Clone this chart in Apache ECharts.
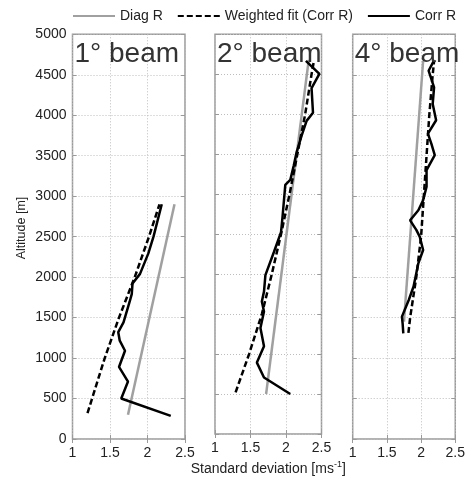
<!DOCTYPE html>
<html>
<head>
<meta charset="utf-8">
<script src="https://cdn.jsdelivr.net/npm/echarts@6/dist/echarts.min.js"></script>
<style>html,body{margin:0;padding:0;background:#fff}#c{width:468px;height:481px}</style>
</head>
<body>
<div id="c"></div>
<script>
// ---- data ----
const panelTitles = ['1° beam', '2° beam', '4° beam'];
const xTicks = [1, 1.5, 2, 2.5];
const yTicks = [0, 500, 1000, 1500, 2000, 2500, 3000, 3500, 4000, 4500, 5000];

const beam1DiagAlt = [300, 2900];
const beam1DiagSd  = [1.74, 2.36];
const beam1FitAlt  = [320, 1000, 1500, 2000, 2500, 2900];
const beam1FitSd   = [1.20, 1.43, 1.62, 1.83, 2.02, 2.16];
const beam1CorrAlt = [2900, 2500, 2290, 2040, 1920, 1790, 1690, 1440, 1320, 1215, 1090, 890, 710, 500, 285];
const beam1CorrSd  = [2.19, 2.08, 2.01, 1.90, 1.80, 1.79, 1.76, 1.68, 1.61, 1.63, 1.70, 1.62, 1.74, 1.65, 2.31];

const beam2DiagAlt = [500, 4680];
const beam2DiagSd  = [1.72, 2.32];
const beam2FitAlt  = [520, 1000, 1500, 2000, 2500, 3000, 3500, 4000, 4500, 4650];
const beam2FitSd   = [1.29, 1.48, 1.66, 1.80, 1.93, 2.05, 2.16, 2.27, 2.36, 2.39];
const beam2CorrAlt = [4668, 4504, 4327, 4019, 3917, 3732, 3527, 3362, 3178, 3116, 2911, 2705, 2525, 2277, 1988, 1781, 1657, 1533, 1326, 1099, 893, 707, 500];
const beam2CorrSd  = [2.28, 2.47, 2.36, 2.38, 2.29, 2.22, 2.15, 2.11, 2.06, 1.99, 1.97, 1.95, 1.93, 1.83, 1.71, 1.69, 1.66, 1.69, 1.64, 1.69, 1.59, 1.69, 2.06];

const beam3DiagAlt = [1450, 4670];
const beam3DiagSd  = [1.75, 2.03];
const beam3FitAlt  = [1310, 1500, 2000, 2500, 3000, 3500, 4000, 4500, 4670];
const beam3FitSd   = [1.815, 1.84, 1.93, 2.00, 2.04, 2.08, 2.12, 2.17, 2.19];
const beam3CorrAlt = [4677, 4550, 4345, 4140, 3938, 3774, 3650, 3508, 3322, 3116, 2950, 2826, 2702, 2583, 2500, 2335, 2170, 2008, 1884, 1717, 1512, 1430, 1306];
const beam3CorrSd  = [2.19, 2.11, 2.19, 2.17, 2.22, 2.10, 2.15, 2.20, 2.08, 2.08, 2.03, 1.96, 1.84, 1.93, 1.98, 2.03, 1.96, 1.92, 1.89, 1.82, 1.72, 1.73, 1.74];

const seriesNames = ['Diag R', 'Weighted fit (Corr R)', 'Corr R'];
const yAxisTitle = 'Altitude [m]';
// ---- end data ----

const FONT = 'Liberation Sans, Arial, sans-serif';
const pairs = (sd, alt) => sd.map((v, i) => [v, alt[i]]);
const panels = [
  [pairs(beam1DiagSd, beam1DiagAlt), pairs(beam1FitSd, beam1FitAlt), pairs(beam1CorrSd, beam1CorrAlt)],
  [pairs(beam2DiagSd, beam2DiagAlt), pairs(beam2FitSd, beam2FitAlt), pairs(beam2CorrSd, beam2CorrAlt)],
  [pairs(beam3DiagSd, beam3DiagAlt), pairs(beam3FitSd, beam3FitAlt), pairs(beam3CorrSd, beam3CorrAlt)]
];

const gridPos = [
  {left: 72.5, width: 112.5},
  {left: 215, width: 106.5},
  {left: 352.7, width: 106}
];
const TOP = 34.3, HEIGHT = 404.7;

const grids = gridPos.map(g => ({
  left: g.left, width: g.width, top: TOP, height: HEIGHT,
  show: true, borderColor: '#9a9a9a', borderWidth: 1.5, backgroundColor: 'transparent'
}));

const xAxes = [], yAxes = [];
const tickStyle = {show: true, inside: true, length: 4, lineStyle: {color: '#9a9a9a', width: 1}};
gridPos.forEach((g, i) => {
  xAxes.push({
    type: 'value', gridIndex: i, min: xTicks[0], max: xTicks[xTicks.length - 1], interval: 0.5,
    position: 'bottom',
    axisLine: {show: false}, axisTick: tickStyle,
    splitLine: {show: true, lineStyle: {color: '#bdbdbd', type: [1, 2], width: 1}},
    axisLabel: {show: true, color: '#222', fontFamily: FONT, fontSize: 14, margin: 7,
      formatter: v => String(v)},
    name: i === 1 ? '{n|Standard deviation [ms}{s|-1}{n|]}' : '',
    nameLocation: 'middle', nameGap: 26,
    nameTextStyle: {
      color: '#222', fontFamily: FONT, fontSize: 14,
      rich: {
        n: {fontFamily: FONT, fontSize: 14, color: '#222', lineHeight: 16, verticalAlign: 'bottom'},
        s: {fontFamily: FONT, fontSize: 9, color: '#222', lineHeight: 16, verticalAlign: 'top', padding: [0, 0, 7, 0]}
      }
    }
  });
  xAxes.push({
    type: 'value', gridIndex: i, min: xTicks[0], max: xTicks[xTicks.length - 1], interval: 0.5,
    position: 'top',
    axisLine: {show: false}, axisTick: tickStyle,
    splitLine: {show: false}, axisLabel: {show: false}
  });
  yAxes.push({
    type: 'value', gridIndex: i, min: yTicks[0], max: yTicks[yTicks.length - 1], interval: 500,
    position: 'left',
    axisLine: {show: false}, axisTick: tickStyle,
    splitLine: {show: true, lineStyle: {color: '#bdbdbd', type: [1, 2], width: 1}},
    axisLabel: {show: i === 0, color: '#222', fontFamily: FONT, fontSize: 14, margin: 6,
      formatter: v => String(v)}
  });
  yAxes.push({
    type: 'value', gridIndex: i, min: yTicks[0], max: yTicks[yTicks.length - 1], interval: 500,
    position: 'right',
    axisLine: {show: false}, axisTick: tickStyle,
    splitLine: {show: false}, axisLabel: {show: false}
  });
});

const styles = [
  {color: '#a0a0a0', width: 2.5, type: 'solid'},
  {color: '#000', width: 2.5, type: [6, 3]},
  {color: '#000', width: 2.5, type: 'solid'}
];
const series = [];
panels.forEach((p, i) => {
  p.forEach((d, k) => {
    series.push({
      type: 'line', name: seriesNames[k], data: d,
      xAxisIndex: i * 2, yAxisIndex: i * 2,
      symbol: 'none', showSymbol: false, smooth: false, animation: false,
      lineStyle: styles[k], itemStyle: {color: styles[k].color}, z: 2 + k
    });
  });
});

const titles = panelTitles.map((t, i) => ({
  text: t, left: gridPos[i].left + 2, top: 40, padding: 0,
  textStyle: {fontFamily: FONT, fontSize: 28, fontWeight: 'normal', color: '#333'}
}));

const chart = echarts.init(document.getElementById('c'), null, {renderer: 'canvas'});
chart.setOption({
  backgroundColor: '#fff',
  animation: false,
  title: titles,
  legend: {
    data: seriesNames, left: 72, top: 9, padding: 0, itemWidth: 42, itemHeight: 12, itemGap: 14,
    itemStyle: {opacity: 0},
    textStyle: {fontFamily: FONT, fontSize: 14, color: '#222'}
  },
  graphic: [{
    type: 'text', x: 22, y: 228, rotation: Math.PI / 2,
    style: {text: yAxisTitle, fontFamily: FONT, fontSize: 12.5, fill: '#222',
      align: 'center', verticalAlign: 'middle'}
  }],
  grid: grids,
  xAxis: xAxes,
  yAxis: yAxes,
  series: series
});
</script>
</body>
</html>
